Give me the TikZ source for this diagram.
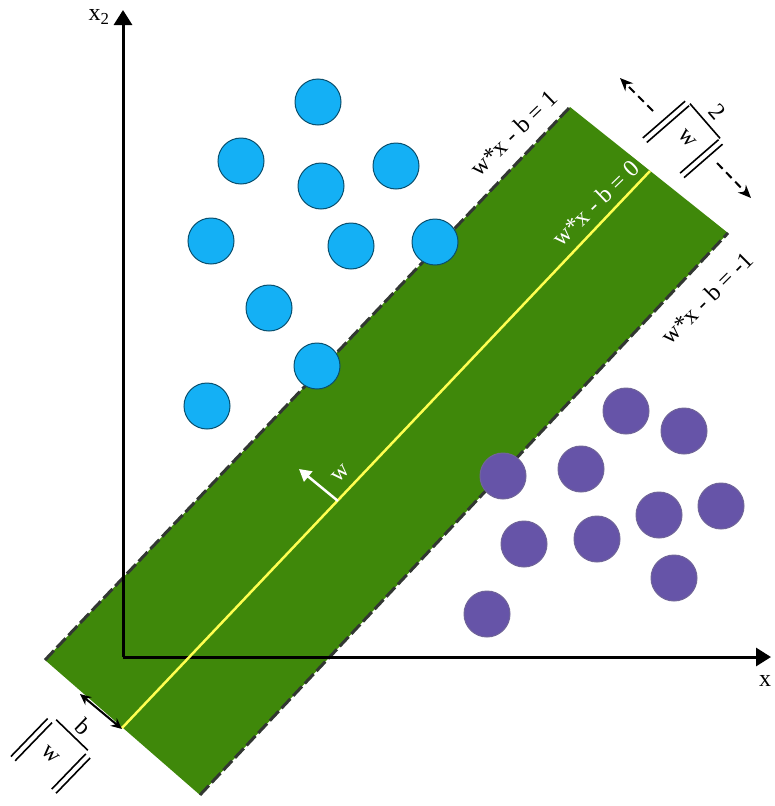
\documentclass[tikz,border=0pt]{standalone}
\usepackage{amsmath}
\usepackage{fontspec}
\setmainfont{Liberation Serif}
\usepackage{xcolor}
\usepackage{tikz}
\usetikzlibrary{arrows.meta}

\definecolor{bandgreen}{RGB}{63,136,10}
\definecolor{edgegray}{RGB}{50,55,50}
\definecolor{midyellow}{RGB}{255,255,80}
\definecolor{dotblue}{RGB}{20,176,245}
\definecolor{dotpurple}{RGB}{102,84,168}

\begin{document}
\begin{tikzpicture}[x=1pt, y=-1pt,
  >={Stealth},
  every node/.style={font=\fontsize{24}{28}\selectfont, inner sep=0pt},
  axis/.style={line width=3pt, -{Triangle[length=15pt,width=18pt]}},
  margin/.style={edgegray, line width=3pt, dash pattern=on 13pt off 4pt},
  gap/.style={line width=2pt, dash pattern=on 8pt off 5pt, -{Stealth[length=13pt,width=11pt]}},
  norm/.style={line width=1.6pt},
  fracbar/.style={line width=1.6pt},
  bluedot/.style={fill=dotblue, draw=dotblue!45!black, line width=1pt},
  purpledot/.style={fill=dotpurple, draw=dotpurple!60!gray, line width=1pt}]
  \useasboundingbox (0,0) rectangle (774,806);
  % band between the margins
  \coordinate (ul) at (45,660);
  \coordinate (ut) at (570,107);
  \coordinate (lr) at (728,233);
  \coordinate (lb) at (200,795);
  \coordinate (c0) at (122,728);
  \coordinate (c1) at (650,171);
  \fill[bandgreen] (ul) -- (ut) -- (lr) -- (lb) -- cycle;
  \draw[margin] (ul) -- (ut);
  \draw[margin] (lb) -- (lr);
  % axes
  \coordinate (O) at (123,657);
  \coordinate (xtip) at (771,657);
  \coordinate (ytip) at (123,10);
  \draw[axis] (O) -- (xtip);
  \draw[axis] (O) -- (ytip);
  \node (xlab) at (765,681) {x};
  \node (ylab) at (99,17) {x$_{\textrm{2}}$};
  % hyperplane
  \draw[midyellow, line width=2.5pt] (c0) -- (c1);
  \coordinate (wt) at (338,501);
  \coordinate (wh) at (299,469);
  \draw[white, line width=2.5pt, -{Triangle[length=12pt,width=13pt]}] (wt) -- (wh);
  \node[white, rotate=44] (wlab) at (341,474) {w};
  % labels of the lines
  \node[rotate=44] (lup) at (514,133) {w*x - b = 1};
  \node[white, rotate=44] (lmid) at (596,203) {w*x - b = 0};
  \node[rotate=45] (llow) at (707,298) {w*x - b = -1};
  % margin width
  \coordinate (m1) at (653,111);
  \coordinate (m1t) at (620,78);
  \coordinate (m2) at (717,163);
  \coordinate (m2t) at (751,198);
  \draw[gap] (m1) -- (m1t);
  \draw[gap] (m2) -- (m2t);
  \begin{scope}[shift={(705,121)}, rotate=-49]
    \node[transform shape] (two) at (1,-15) {2};
    \node[transform shape] (wtop) at (1,25) {w};
    \draw[fracbar] (-23,0) -- (23,0);
    \draw[norm] (-22,2) -- (-22,58) (-28,2) -- (-28,58);
    \draw[norm] (23,2) -- (23,53) (29,2) -- (29,53);
  \end{scope}
  % offset
  \coordinate (b0) at (80,694);
  \coordinate (b1) at (122,729);
  \draw[line width=2pt, {Stealth[length=11pt,width=10pt]}-{Stealth[length=11pt,width=10pt]}] (b0) -- (b1);
  \begin{scope}[shift={(72,735)}, rotate=-44]
    \node[transform shape] (bnum) at (3,-14) {b};
    \node[transform shape] (wbot) at (-2,29) {w};
    \draw[fracbar] (-22,0) -- (22,0);
    \draw[norm] (-23,5) -- (-23,58) (-29,5) -- (-29,58);
    \draw[norm] (23,4) -- (23,53) (29,4) -- (29,53);
  \end{scope}
  % class one
  \foreach \p in {(318,102),(241,161),(321,186),(396,166),(211,241),
                  (351,246),(435,242),(269,308),(317,366),(207,406)}
    \draw[bluedot] \p circle (23);
  % class two
  \foreach \p in {(626,411),(684,431),(503,476),(581,469),(659,515),
                  (721,506),(524,544),(597,539),(674,578),(487,614)}
    \draw[purpledot] \p circle (23);
\end{tikzpicture}
\end{document}
